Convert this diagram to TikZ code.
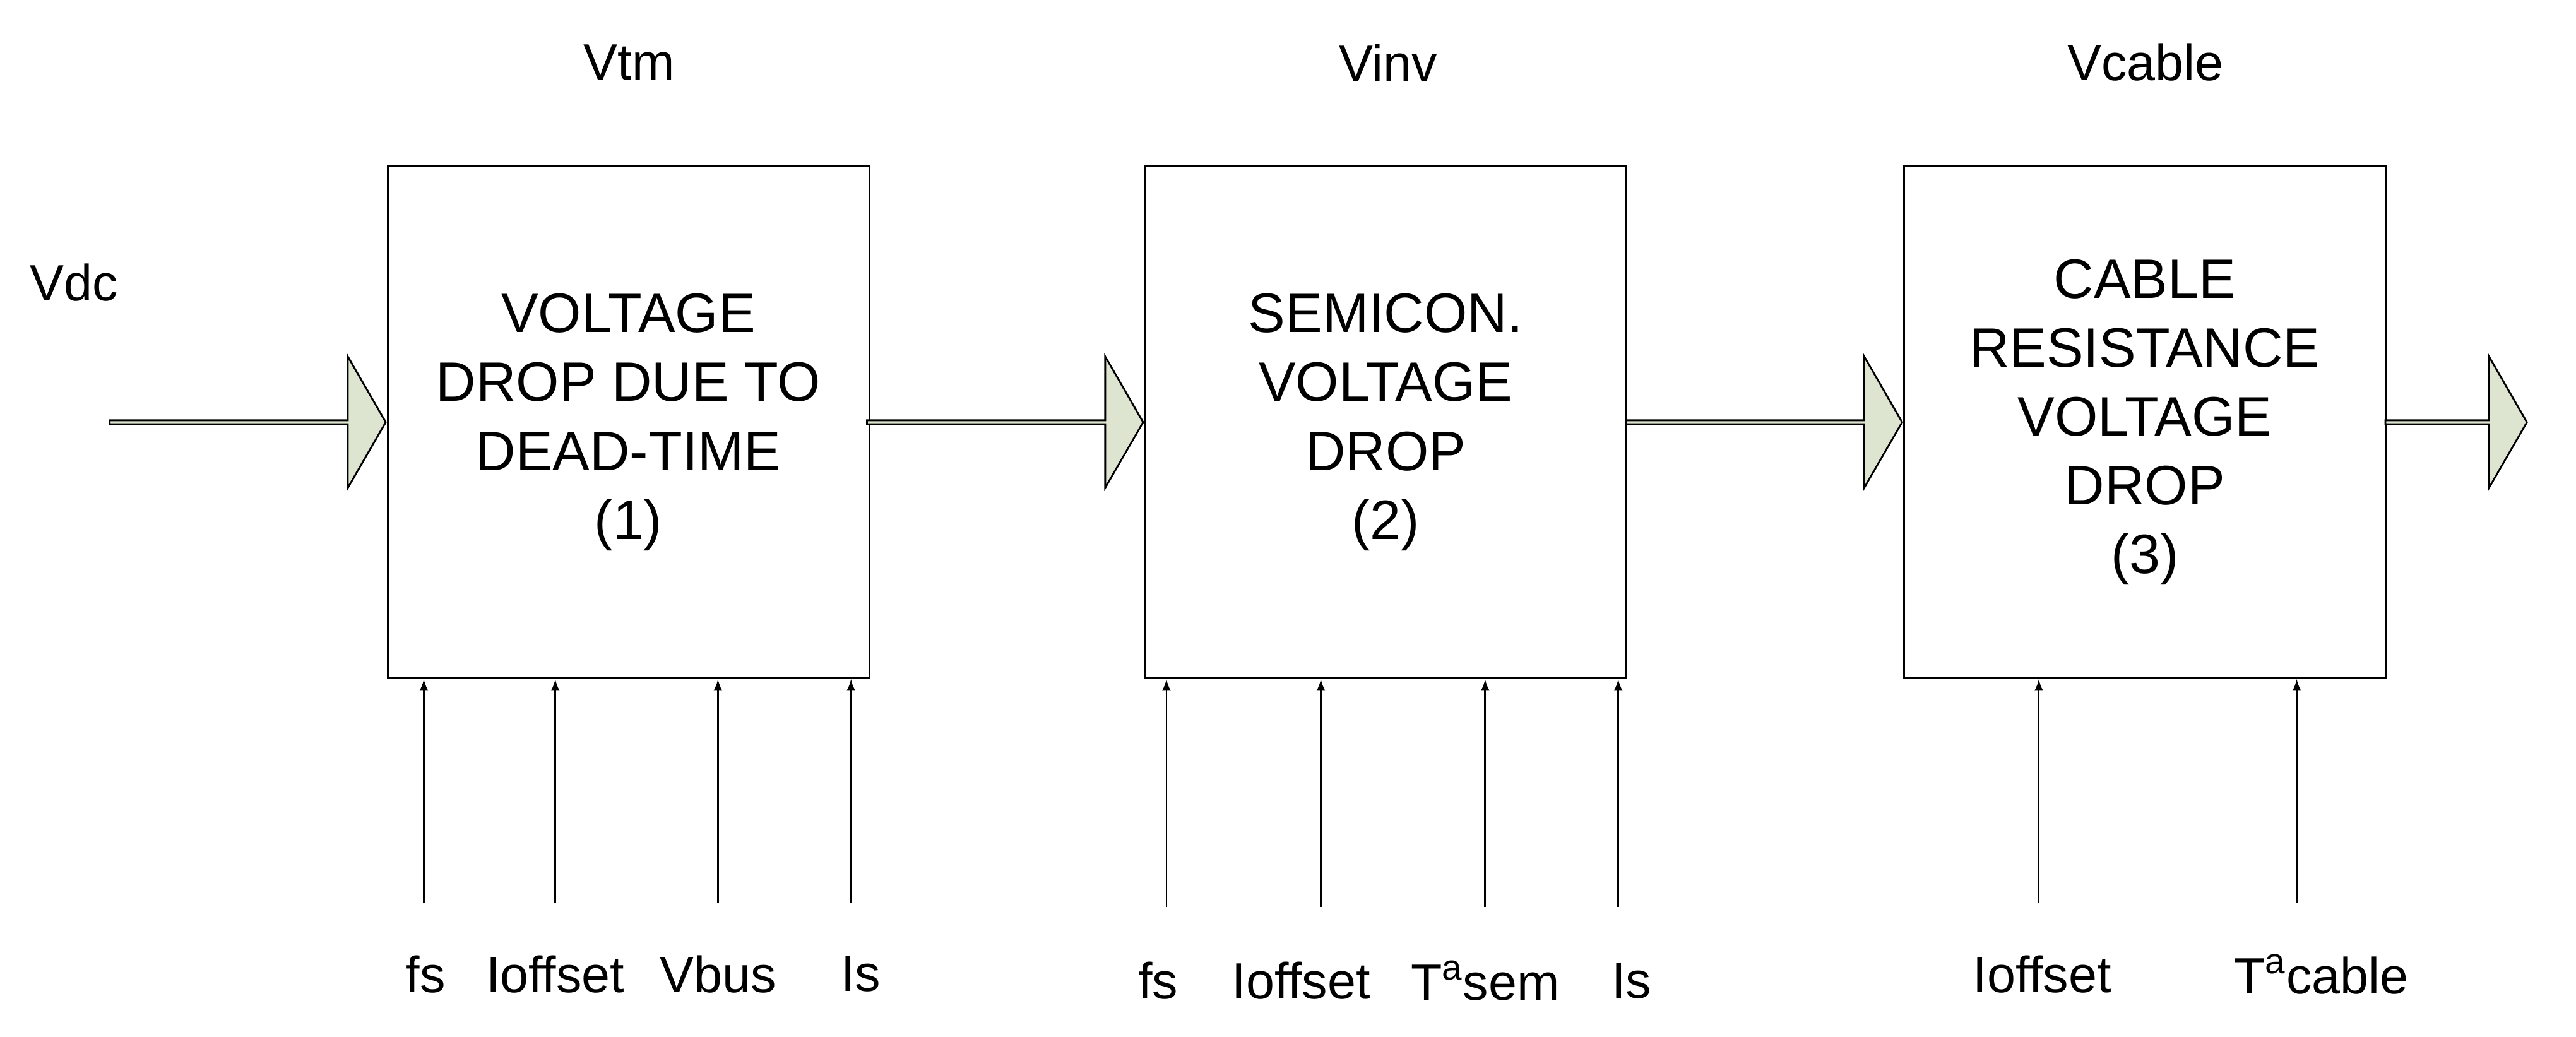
\documentclass[tikz,border=0pt]{standalone}
\usepackage{fontspec}
\setmainfont{Liberation Sans}
\usetikzlibrary{shapes.arrows,positioning}
\definecolor{flowfill}{RGB}{221,229,208}
\tikzstyle{block} = [draw, line width=0.8pt, minimum width=7.62cm, minimum height=8.11cm, inner sep=0pt, align=center, font=\fontsize{25}{31}\selectfont]
\tikzstyle{flow} = [single arrow, draw, line width=0.8pt, fill=flowfill, single arrow tip angle=120, single arrow head extend=0.468cm, minimum width=2.08cm, inner sep=0pt, anchor=tip]
\tikzstyle{lbl} = [font=\fontsize{23}{28}\selectfont, inner sep=0pt]
\tikzstyle{arrow} = [line width=0.8pt,-latex]

\begin{document}
\begin{tikzpicture}[x=0.026cm,y=-0.026cm]
    \useasboundingbox (0,0) rectangle (1568,631);

    % Blocks
    \node[block] (B1) at (382.5,257) {VOLTAGE\\DROP DUE TO\\DEAD-TIME\\(1)};
    \node[block] (B2) at (843.5,257) {SEMICON.\\VOLTAGE\\DROP\\(2)};
    \node[block] (B3) at (1305.5,257) {CABLE\\RESISTANCE\\VOLTAGE\\DROP\\(3)};

    % Block arrows
    \node[flow, minimum height=4.37cm] (F1) at (B1.west) {};
    \node[flow, minimum height=4.37cm] (F2) at (B2.west) {};
    \node[flow, minimum height=4.37cm] (F3) at (B3.west) {};
    \node[flow, minimum height=2.24cm] (F4) at ([xshift=2.24cm]B3.east) {};

    % Voltage labels
    \node[lbl] (vdc) at (45,172) {Vdc};
    \node[lbl] (vtm) at (383,38) {Vtm};
    \node[lbl] (vinv) at (845,38) {Vinv};
    \node[lbl] (vcable) at (1306,38) {Vcable};

    % Inputs of block 1
    \foreach \name/\x/\lx/\txt in {a/258/259/fs, b/338/338/Ioffset, c/437/437/Vbus, d/518/524/Is}
    {
        \node[lbl] (in1\name) at (\lx,593) {\txt};
        \coordinate (s1\name) at (\x,550);
        \draw[arrow] (s1\name) -- (s1\name |- B1.south);
    }
    % Inputs of block 2
    \foreach \name/\x/\lx/\txt in {a/710/705/fs, b/804/792/Ioffset, c/904/904/T\textsuperscript{a}sem, d/985/993/Is}
    {
        \node[lbl] (in2\name) at (\lx,597) {\txt};
        \coordinate (s2\name) at (\x,552);
        \draw[arrow] (s2\name) -- (s2\name |- B2.south);
    }
    % Inputs of block 3
    \foreach \name/\x/\lx/\txt in {a/1241/1243/Ioffset, b/1398/1413/T\textsuperscript{a}cable}
    {
        \node[lbl] (in3\name) at (\lx,593) {\txt};
        \coordinate (s3\name) at (\x,550);
        \draw[arrow] (s3\name) -- (s3\name |- B3.south);
    }
\end{tikzpicture}
\end{document}
